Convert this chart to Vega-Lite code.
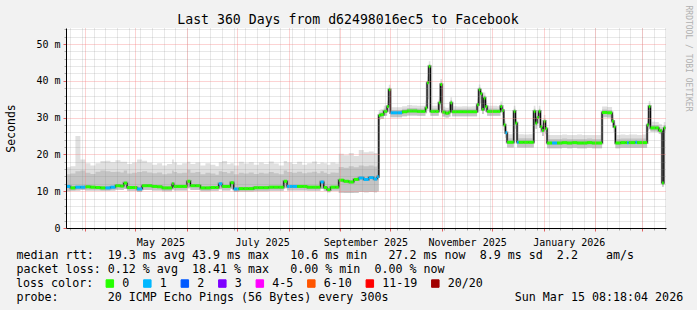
{
  "$schema": "https://vega.github.io/schema/vega-lite/v6.json",
  "width": 600,
  "height": 200,
  "autosize": {"type": "none"},
  "padding": {"left": 66, "top": 28, "right": 31, "bottom": 82},
  "background": "#f2f2f2",
  "config": {
    "view": {"stroke": null, "fill": "#ffffff"},
    "font": "DejaVu Sans Mono"
  },
  "title": {
    "text": "Last 360 Days from d62498016ec5 to Facebook",
    "font": "DejaVu Sans Mono",
    "fontSize": 13.2,
    "fontWeight": "normal",
    "color": "#000000",
    "anchor": "middle",
    "frame": "group",
    "dx": -18,
    "baseline": "alphabetic",
    "offset": -32
  },
  "data": {
    "values": [
      {"t":"2025-03-20","m":11.3,"hi":16.5,"mid":14.6,"lo":10.0,"loss":"1"},
      {"t":"2025-03-23","m":10.9,"hi":16.8,"mid":14.8,"lo":10.1,"loss":"0"},
      {"t":"2025-03-26","m":11.1,"hi":25.0,"mid":15.4,"lo":10.2,"loss":"1"},
      {"t":"2025-03-29","m":11.1,"hi":18.6,"mid":15.6,"lo":10.3,"loss":"1"},
      {"t":"2025-04-01","m":11.2,"hi":17.6,"mid":15.0,"lo":10.2,"loss":"0"},
      {"t":"2025-04-04","m":11.1,"hi":17.0,"mid":14.7,"lo":10.2,"loss":"0"},
      {"t":"2025-04-07","m":11.0,"hi":17.6,"mid":15.3,"lo":10.2,"loss":"0"},
      {"t":"2025-04-10","m":10.9,"hi":18.2,"mid":15.6,"lo":10.1,"loss":"0"},
      {"t":"2025-04-13","m":10.9,"hi":18.3,"mid":15.4,"lo":10.1,"loss":"1"},
      {"t":"2025-04-16","m":11.1,"hi":17.9,"mid":15.2,"lo":10.2,"loss":"1"},
      {"t":"2025-04-19","m":11.5,"hi":18.4,"mid":15.3,"lo":10.4,"loss":"0"},
      {"t":"2025-04-22","m":11.4,"hi":18.0,"mid":15.1,"lo":10.3,"loss":"0"},
      {"t":"2025-04-24","m":12.2,"hi":18.0,"mid":15.6,"lo":10.6,"loss":"0"},
      {"t":"2025-04-26","m":11.0,"hi":17.4,"mid":14.8,"lo":10.1,"loss":"0"},
      {"t":"2025-04-29","m":11.0,"hi":17.8,"mid":15.0,"lo":10.1,"loss":"0"},
      {"t":"2025-05-02","m":10.6,"hi":18.6,"mid":15.2,"lo":9.8,"loss":"1"},
      {"t":"2025-05-05","m":11.5,"hi":18.3,"mid":15.4,"lo":10.3,"loss":"0"},
      {"t":"2025-05-08","m":11.5,"hi":17.7,"mid":15.1,"lo":10.3,"loss":"0"},
      {"t":"2025-05-11","m":11.3,"hi":17.2,"mid":14.9,"lo":10.2,"loss":"0"},
      {"t":"2025-05-14","m":11.2,"hi":17.6,"mid":15.1,"lo":10.2,"loss":"0"},
      {"t":"2025-05-17","m":10.9,"hi":17.0,"mid":14.6,"lo":10.0,"loss":"0"},
      {"t":"2025-05-20","m":10.9,"hi":17.4,"mid":14.8,"lo":10.0,"loss":"0"},
      {"t":"2025-05-23","m":12.0,"hi":18.6,"mid":15.6,"lo":10.5,"loss":"0"},
      {"t":"2025-05-24","m":11.3,"hi":17.8,"mid":15.2,"lo":10.2,"loss":"0"},
      {"t":"2025-05-26","m":11.3,"hi":17.2,"mid":14.9,"lo":10.2,"loss":"0"},
      {"t":"2025-05-29","m":11.3,"hi":17.6,"mid":15.0,"lo":10.2,"loss":"0"},
      {"t":"2025-06-01","m":12.7,"hi":18.0,"mid":15.8,"lo":10.8,"loss":"0"},
      {"t":"2025-06-03","m":11.5,"hi":17.4,"mid":15.0,"lo":10.3,"loss":"0"},
      {"t":"2025-06-06","m":11.5,"hi":17.8,"mid":15.2,"lo":10.3,"loss":"0"},
      {"t":"2025-06-09","m":10.9,"hi":17.0,"mid":14.6,"lo":10.0,"loss":"0"},
      {"t":"2025-06-12","m":10.9,"hi":17.6,"mid":15.0,"lo":10.0,"loss":"0"},
      {"t":"2025-06-15","m":11.0,"hi":17.2,"mid":14.8,"lo":10.1,"loss":"0"},
      {"t":"2025-06-18","m":11.0,"hi":16.8,"mid":14.5,"lo":10.1,"loss":"0"},
      {"t":"2025-06-20","m":12.0,"hi":17.9,"mid":15.4,"lo":10.5,"loss":"1"},
      {"t":"2025-06-22","m":11.3,"hi":18.2,"mid":15.2,"lo":10.2,"loss":"0"},
      {"t":"2025-06-25","m":11.3,"hi":17.3,"mid":14.9,"lo":10.2,"loss":"0"},
      {"t":"2025-06-27","m":12.3,"hi":17.6,"mid":15.4,"lo":10.6,"loss":"0"},
      {"t":"2025-06-29","m":10.6,"hi":17.0,"mid":14.6,"lo":9.8,"loss":"1"},
      {"t":"2025-07-02","m":10.7,"hi":18.0,"mid":15.0,"lo":9.9,"loss":"0"},
      {"t":"2025-07-05","m":10.7,"hi":17.5,"mid":14.8,"lo":9.9,"loss":"0"},
      {"t":"2025-07-08","m":10.7,"hi":17.9,"mid":15.1,"lo":9.9,"loss":"0"},
      {"t":"2025-07-11","m":10.95,"hi":17.2,"mid":14.7,"lo":10.0,"loss":"0"},
      {"t":"2025-07-14","m":10.95,"hi":17.8,"mid":15.0,"lo":10.0,"loss":"0"},
      {"t":"2025-07-17","m":10.95,"hi":17.4,"mid":14.8,"lo":10.0,"loss":"0"},
      {"t":"2025-07-20","m":11.1,"hi":18.1,"mid":15.2,"lo":10.1,"loss":"0"},
      {"t":"2025-07-23","m":11.1,"hi":17.5,"mid":14.9,"lo":10.1,"loss":"0"},
      {"t":"2025-07-26","m":11.1,"hi":17.0,"mid":14.6,"lo":10.1,"loss":"0"},
      {"t":"2025-07-29","m":12.7,"hi":18.2,"mid":15.6,"lo":10.8,"loss":"0"},
      {"t":"2025-07-31","m":11.3,"hi":17.8,"mid":15.2,"lo":10.2,"loss":"1"},
      {"t":"2025-08-03","m":11.3,"hi":17.4,"mid":15.0,"lo":10.2,"loss":"1"},
      {"t":"2025-08-06","m":11.3,"hi":18.0,"mid":15.3,"lo":10.2,"loss":"0"},
      {"t":"2025-08-09","m":11.3,"hi":17.2,"mid":14.9,"lo":10.2,"loss":"0"},
      {"t":"2025-08-12","m":11.1,"hi":17.6,"mid":15.1,"lo":10.1,"loss":"0"},
      {"t":"2025-08-15","m":11.1,"hi":18.1,"mid":15.3,"lo":10.1,"loss":"0"},
      {"t":"2025-08-18","m":11.1,"hi":17.4,"mid":14.9,"lo":10.1,"loss":"0"},
      {"t":"2025-08-20","m":12.5,"hi":17.8,"mid":15.4,"lo":10.7,"loss":"1"},
      {"t":"2025-08-22","m":11.0,"hi":17.6,"mid":15.0,"lo":10.1,"loss":"0"},
      {"t":"2025-08-24","m":10.4,"hi":17.2,"mid":14.7,"lo":9.7,"loss":"0"},
      {"t":"2025-08-26","m":11.1,"hi":17.8,"mid":15.1,"lo":10.1,"loss":"0"},
      {"t":"2025-08-29","m":11.1,"hi":17.5,"mid":15.0,"lo":10.1,"loss":"0"},
      {"t":"2025-08-31","m":13.0,"hi":20.2,"mid":16.6,"lo":9.6,"loss":"0"},
      {"t":"2025-09-03","m":12.7,"hi":19.8,"mid":16.4,"lo":9.5,"loss":"0"},
      {"t":"2025-09-06","m":12.5,"hi":20.4,"mid":16.8,"lo":9.5,"loss":"0"},
      {"t":"2025-09-09","m":13.2,"hi":19.6,"mid":16.5,"lo":9.6,"loss":"0"},
      {"t":"2025-09-12","m":13.6,"hi":21.2,"mid":17.0,"lo":9.8,"loss":"1"},
      {"t":"2025-09-15","m":13.2,"hi":20.6,"mid":16.8,"lo":9.7,"loss":"1"},
      {"t":"2025-09-18","m":13.7,"hi":20.8,"mid":17.0,"lo":9.8,"loss":"1"},
      {"t":"2025-09-21","m":13.3,"hi":20.4,"mid":16.7,"lo":9.7,"loss":"1"},
      {"t":"2025-09-23","m":13.9,"hi":20.4,"mid":17.0,"lo":9.9,"loss":"1"},
      {"t":"2025-09-24","m":30.6,"hi":32.1,"mid":31.4,"lo":29.4,"loss":"0"},
      {"t":"2025-09-25","m":30.8,"hi":32.3,"mid":31.6,"lo":29.6,"loss":"0"},
      {"t":"2025-09-27","m":31.7,"hi":33.2,"mid":32.5,"lo":30.5,"loss":"0"},
      {"t":"2025-09-29","m":33.0,"hi":34.6,"mid":33.8,"lo":31.6,"loss":"0"},
      {"t":"2025-09-30","m":37.6,"hi":38.9,"mid":38.2,"lo":35.0,"loss":"0"},
      {"t":"2025-10-01","m":31.3,"hi":32.8,"mid":32.1,"lo":30.1,"loss":"1"},
      {"t":"2025-10-02","m":31.3,"hi":32.8,"mid":32.1,"lo":30.1,"loss":"1"},
      {"t":"2025-10-05","m":31.3,"hi":32.8,"mid":32.1,"lo":30.1,"loss":"1"},
      {"t":"2025-10-08","m":31.6,"hi":33.1,"mid":32.4,"lo":30.4,"loss":"0"},
      {"t":"2025-10-11","m":31.8,"hi":33.4,"mid":32.6,"lo":30.6,"loss":"0"},
      {"t":"2025-10-14","m":31.8,"hi":33.3,"mid":32.6,"lo":30.6,"loss":"0"},
      {"t":"2025-10-17","m":31.7,"hi":33.2,"mid":32.5,"lo":30.5,"loss":"0"},
      {"t":"2025-10-20","m":31.7,"hi":33.2,"mid":32.5,"lo":30.5,"loss":"0"},
      {"t":"2025-10-22","m":32.6,"hi":34.6,"mid":33.5,"lo":31.2,"loss":"0"},
      {"t":"2025-10-23","m":39.5,"hi":41.2,"mid":40.3,"lo":35.0,"loss":"0"},
      {"t":"2025-10-24","m":43.9,"hi":45.3,"mid":44.6,"lo":41.0,"loss":"0"},
      {"t":"2025-10-25","m":31.7,"hi":33.2,"mid":32.5,"lo":30.5,"loss":"0"},
      {"t":"2025-10-28","m":31.7,"hi":33.2,"mid":32.5,"lo":30.5,"loss":"0"},
      {"t":"2025-10-30","m":34.0,"hi":35.8,"mid":34.9,"lo":32.5,"loss":"0"},
      {"t":"2025-10-31","m":39.0,"hi":40.5,"mid":39.8,"lo":36.0,"loss":"0"},
      {"t":"2025-11-01","m":31.5,"hi":33.0,"mid":32.3,"lo":30.3,"loss":"0"},
      {"t":"2025-11-03","m":31.2,"hi":32.7,"mid":32.0,"lo":30.0,"loss":"0"},
      {"t":"2025-11-05","m":31.5,"hi":33.0,"mid":32.3,"lo":30.3,"loss":"0"},
      {"t":"2025-11-06","m":34.0,"hi":35.5,"mid":34.8,"lo":32.5,"loss":"0"},
      {"t":"2025-11-07","m":31.6,"hi":33.1,"mid":32.4,"lo":30.4,"loss":"0"},
      {"t":"2025-11-10","m":31.6,"hi":33.0,"mid":32.4,"lo":30.4,"loss":"0"},
      {"t":"2025-11-13","m":31.6,"hi":33.1,"mid":32.4,"lo":30.4,"loss":"0"},
      {"t":"2025-11-16","m":31.6,"hi":33.0,"mid":32.4,"lo":30.4,"loss":"0"},
      {"t":"2025-11-19","m":31.6,"hi":33.1,"mid":32.4,"lo":30.4,"loss":"0"},
      {"t":"2025-11-22","m":33.5,"hi":35.2,"mid":34.3,"lo":31.5,"loss":"0"},
      {"t":"2025-11-23","m":37.6,"hi":39.0,"mid":38.3,"lo":35.0,"loss":"0"},
      {"t":"2025-11-24","m":36.5,"hi":37.8,"mid":37.1,"lo":34.0,"loss":"0"},
      {"t":"2025-11-25","m":32.2,"hi":33.8,"mid":33.0,"lo":31.0,"loss":"0"},
      {"t":"2025-11-26","m":35.3,"hi":36.8,"mid":36.0,"lo":33.5,"loss":"0"},
      {"t":"2025-11-27","m":33.0,"hi":34.6,"mid":33.8,"lo":31.5,"loss":"0"},
      {"t":"2025-11-28","m":31.7,"hi":33.2,"mid":32.5,"lo":30.5,"loss":"0"},
      {"t":"2025-12-01","m":31.7,"hi":33.2,"mid":32.5,"lo":30.5,"loss":"0"},
      {"t":"2025-12-04","m":31.7,"hi":33.1,"mid":32.4,"lo":30.5,"loss":"0"},
      {"t":"2025-12-06","m":33.0,"hi":34.4,"mid":33.7,"lo":31.8,"loss":"0"},
      {"t":"2025-12-07","m":31.9,"hi":33.4,"mid":32.7,"lo":30.8,"loss":"0"},
      {"t":"2025-12-08","m":28.0,"hi":30.0,"mid":29.0,"lo":26.5,"loss":"0"},
      {"t":"2025-12-09","m":25.9,"hi":27.6,"mid":26.8,"lo":24.5,"loss":"1"},
      {"t":"2025-12-10","m":23.3,"hi":25.5,"mid":24.4,"lo":21.9,"loss":"0"},
      {"t":"2025-12-13","m":23.3,"hi":25.5,"mid":24.4,"lo":21.9,"loss":"0"},
      {"t":"2025-12-14","m":31.7,"hi":33.2,"mid":32.4,"lo":30.0,"loss":"0"},
      {"t":"2025-12-15","m":28.5,"hi":30.2,"mid":29.3,"lo":27.0,"loss":"0"},
      {"t":"2025-12-16","m":23.3,"hi":25.5,"mid":24.4,"lo":21.9,"loss":"1"},
      {"t":"2025-12-17","m":23.3,"hi":25.5,"mid":24.4,"lo":21.9,"loss":"0"},
      {"t":"2025-12-20","m":23.3,"hi":25.4,"mid":24.4,"lo":21.9,"loss":"0"},
      {"t":"2025-12-23","m":23.3,"hi":25.5,"mid":24.4,"lo":21.9,"loss":"0"},
      {"t":"2025-12-25","m":23.3,"hi":25.5,"mid":24.4,"lo":21.9,"loss":"0"},
      {"t":"2025-12-26","m":31.7,"hi":33.2,"mid":32.4,"lo":30.0,"loss":"0"},
      {"t":"2025-12-27","m":28.5,"hi":30.2,"mid":29.3,"lo":27.0,"loss":"0"},
      {"t":"2025-12-28","m":30.0,"hi":31.7,"mid":30.8,"lo":28.5,"loss":"0"},
      {"t":"2025-12-29","m":31.7,"hi":33.2,"mid":32.4,"lo":30.0,"loss":"0"},
      {"t":"2025-12-30","m":27.5,"hi":29.3,"mid":28.4,"lo":26.0,"loss":"0"},
      {"t":"2025-12-31","m":26.5,"hi":28.3,"mid":27.4,"lo":25.0,"loss":"0"},
      {"t":"2026-01-01","m":29.0,"hi":30.7,"mid":29.8,"lo":27.5,"loss":"0"},
      {"t":"2026-01-02","m":27.0,"hi":28.9,"mid":27.9,"lo":25.5,"loss":"0"},
      {"t":"2026-01-03","m":23.1,"hi":25.3,"mid":24.2,"lo":21.7,"loss":"0"},
      {"t":"2026-01-06","m":23.1,"hi":25.3,"mid":24.2,"lo":21.7,"loss":"1"},
      {"t":"2026-01-09","m":23.1,"hi":25.3,"mid":24.2,"lo":21.7,"loss":"0"},
      {"t":"2026-01-12","m":23.2,"hi":25.4,"mid":24.3,"lo":21.8,"loss":"0"},
      {"t":"2026-01-15","m":23.1,"hi":25.3,"mid":24.2,"lo":21.7,"loss":"0"},
      {"t":"2026-01-18","m":23.2,"hi":25.3,"mid":24.2,"lo":21.8,"loss":"0"},
      {"t":"2026-01-21","m":23.1,"hi":25.4,"mid":24.2,"lo":21.7,"loss":"0"},
      {"t":"2026-01-24","m":23.1,"hi":25.3,"mid":24.2,"lo":21.7,"loss":"0"},
      {"t":"2026-01-27","m":23.2,"hi":25.3,"mid":24.3,"lo":21.8,"loss":"0"},
      {"t":"2026-01-30","m":23.1,"hi":25.3,"mid":24.2,"lo":21.7,"loss":"0"},
      {"t":"2026-02-02","m":23.1,"hi":25.3,"mid":24.2,"lo":21.7,"loss":"0"},
      {"t":"2026-02-05","m":31.4,"hi":33.0,"mid":32.2,"lo":30.1,"loss":"0"},
      {"t":"2026-02-08","m":31.3,"hi":32.9,"mid":32.1,"lo":30.0,"loss":"0"},
      {"t":"2026-02-11","m":29.0,"hi":30.7,"mid":29.8,"lo":27.5,"loss":"0"},
      {"t":"2026-02-12","m":27.5,"hi":29.3,"mid":28.4,"lo":26.0,"loss":"0"},
      {"t":"2026-02-13","m":23.1,"hi":25.3,"mid":24.2,"lo":21.7,"loss":"0"},
      {"t":"2026-02-16","m":23.2,"hi":25.4,"mid":24.3,"lo":21.8,"loss":"0"},
      {"t":"2026-02-19","m":23.2,"hi":25.3,"mid":24.3,"lo":21.8,"loss":"0"},
      {"t":"2026-02-20","m":23.2,"hi":25.3,"mid":24.3,"lo":21.8,"loss":"1"},
      {"t":"2026-02-21","m":23.2,"hi":25.4,"mid":24.3,"lo":21.8,"loss":"0"},
      {"t":"2026-02-25","m":23.3,"hi":25.4,"mid":24.3,"lo":21.8,"loss":"1"},
      {"t":"2026-02-26","m":23.2,"hi":25.3,"mid":24.3,"lo":21.8,"loss":"0"},
      {"t":"2026-03-01","m":23.2,"hi":25.4,"mid":24.3,"lo":21.8,"loss":"0"},
      {"t":"2026-03-04","m":28.0,"hi":30.0,"mid":29.0,"lo":26.5,"loss":"0"},
      {"t":"2026-03-05","m":33.0,"hi":34.5,"mid":33.8,"lo":31.0,"loss":"0"},
      {"t":"2026-03-06","m":27.2,"hi":28.9,"mid":28.0,"lo":26.2,"loss":"0"},
      {"t":"2026-03-09","m":27.2,"hi":28.8,"mid":28.0,"lo":26.2,"loss":"0"},
      {"t":"2026-03-11","m":26.5,"hi":28.3,"mid":27.4,"lo":25.6,"loss":"0"},
      {"t":"2026-03-12","m":26.4,"hi":28.2,"mid":27.3,"lo":25.5,"loss":"0"},
      {"t":"2026-03-13","m":12.2,"hi":13.8,"mid":13.0,"lo":11.2,"loss":"0"},
      {"t":"2026-03-14","m":27.2,"hi":28.8,"mid":28.0,"lo":26.2,"loss":"0"},
      {"t":"2026-03-15","m":27.2,"hi":28.8,"mid":28.0,"lo":26.2,"loss":"0"}
    ]
  },
  "transform": [
    {"window": [{"op": "lead", "field": "t", "as": "t2"}], "sort": [{"field": "t", "order": "ascending"}]}
  ],
  "layer": [
    {
      "mark": {"type": "area", "interpolate": "step-after", "color": "#e0e0e0", "clip": true},
      "encoding": {
        "x": {
          "field": "t", "type": "temporal",
          "scale": {"type": "utc", "domain": [
            {"year": 2025, "month": 3, "date": 20, "hours": 8, "minutes": 18, "seconds": 4, "utc": true},
            {"year": 2026, "month": 3, "date": 15, "hours": 8, "minutes": 18, "seconds": 4, "utc": true}
          ]},
          "axis": {
            "orient": "bottom",
            "tickCount": {"interval": "week", "step": 1},
            "grid": true, "gridColor": "#8c8c8c", "gridOpacity": 0.4, "gridDash": [1, 1], "gridWidth": 1,
            "labels": false, "domain": false,
            "ticks": true, "tickSize": 2, "tickColor": "#aaaaaa",
            "title": "probe:\u00a0\u00a0\u00a0\u00a0\u00a0\u00a0\u00a020\u00a0ICMP\u00a0Echo\u00a0Pings\u00a0(56\u00a0Bytes)\u00a0every\u00a0300s\u00a0\u00a0\u00a0\u00a0\u00a0\u00a0\u00a0\u00a0\u00a0\u00a0\u00a0\u00a0\u00a0\u00a0\u00a0\u00a0\u00a0\u00a0Sun\u00a0Mar\u00a015\u00a008:18:04\u00a02026",
            "titleFont": "DejaVu Sans Mono", "titleFontSize": 11.66, "titleFontWeight": "normal",
            "titleColor": "#000000", "titleAlign": "left", "titleBaseline": "alphabetic",
            "titleX": -50, "titleY": 72.8,
            "zindex": 1
          }
        },
        "y": {
          "field": "hi", "type": "quantitative",
          "scale": {"domain": [0, 54.35], "nice": false, "zero": true},
          "axis": {
            "orient": "right",
            "grid": false, "labels": false, "ticks": false, "domain": false,
            "title": "RRDTOOL / TOBI OETIKER",
            "titleAngle": 90, "titleFont": "DejaVu Sans Mono", "titleFontSize": 8,
            "titleFontWeight": "normal", "titleColor": "#b0b0b0",
            "titleX": 19, "titleY": -23, "titleAlign": "left", "titleBaseline": "alphabetic"
          }
        },
        "y2": {"field": "lo"}
      }
    },
    {
      "mark": {"type": "area", "interpolate": "step-after", "color": "#c4c4c4", "clip": true},
      "encoding": {
        "x": {"field": "t", "type": "temporal", "axis": null},
        "y": {"field": "mid", "type": "quantitative", "axis": null},
        "y2": {"field": "lo"}
      }
    },
    {
      "mark": {"type": "line", "interpolate": "step-after", "color": "#959595", "strokeWidth": 2.5, "clip": true},
      "encoding": {
        "x": {"field": "t", "type": "temporal", "axis": null},
        "y": {"field": "m", "type": "quantitative", "axis": null}
      }
    },
    {
      "mark": {"type": "line", "interpolate": "step-after", "color": "#000000", "strokeWidth": 1, "clip": true},
      "encoding": {
        "x": {"field": "t", "type": "temporal", "axis": null},
        "y": {"field": "m", "type": "quantitative", "axis": null}
      }
    },
    {
      "mark": {"type": "rule", "strokeWidth": 3, "clip": true},
      "encoding": {
        "x": {
          "field": "t", "type": "temporal",
          "axis": {
            "orient": "bottom",
            "values": [
              {"year": 2025, "month": 4, "date": 1, "utc": true},
              {"year": 2025, "month": 5, "date": 1, "utc": true},
              {"year": 2025, "month": 6, "date": 1, "utc": true},
              {"year": 2025, "month": 7, "date": 1, "utc": true},
              {"year": 2025, "month": 8, "date": 1, "utc": true},
              {"year": 2025, "month": 9, "date": 1, "utc": true},
              {"year": 2025, "month": 10, "date": 1, "utc": true},
              {"year": 2025, "month": 11, "date": 1, "utc": true},
              {"year": 2025, "month": 12, "date": 1, "utc": true},
              {"year": 2026, "month": 1, "date": 1, "utc": true},
              {"year": 2026, "month": 2, "date": 1, "utc": true},
              {"year": 2026, "month": 3, "date": 1, "utc": true}
            ],
            "grid": true, "gridColor": "#f58080", "gridOpacity": 0.7, "gridDash": [1, 1], "gridWidth": 1,
            "domain": true, "domainColor": "#000000", "domainWidth": 1,
            "ticks": true, "tickSize": 3, "tickColor": "#e06060",
            "labelExpr": "utcmonth(datum.value) % 2 == 0 && utcmonth(datum.value) != 2 ? utcFormat(datum.value, '%B %Y') : ''",
            "labelOffset": 25, "labelFont": "DejaVu Sans Mono", "labelFontSize": 10, "labelColor": "#000000",
            "labelPadding": 6, "labelOverlap": false, "labelFlush": false, "labelBound": false,
            "title": [
              "median\u00a0rtt:\u00a0\u00a019.3\u00a0ms\u00a0avg\u00a043.9\u00a0ms\u00a0max\u00a0\u00a0\u00a010.6\u00a0ms\u00a0min\u00a0\u00a0\u00a027.2\u00a0ms\u00a0now\u00a0\u00a08.9\u00a0ms\u00a0sd\u00a0\u00a02.2\u00a0\u00a0\u00a0\u00a0am/s",
              "packet\u00a0loss:\u00a00.12\u00a0%\u00a0avg\u00a0\u00a018.41\u00a0%\u00a0max\u00a0\u00a0\u00a00.00\u00a0%\u00a0min\u00a0\u00a00.00\u00a0%\u00a0now"
            ],
            "titleFont": "DejaVu Sans Mono", "titleFontSize": 11.66, "titleFontWeight": "normal",
            "titleColor": "#000000", "titleAlign": "left", "titleBaseline": "alphabetic",
            "titleX": -50, "titleY": 30.2, "titleLineHeight": 14.1,
            "zindex": 1
          }
        },
        "x2": {"field": "t2"},
        "y": {
          "field": "m", "type": "quantitative",
          "axis": {
            "orient": "left",
            "values": [0, 2, 4, 6, 8, 10, 12, 14, 16, 18, 20, 22, 24, 26, 28, 30, 32, 34, 36, 38, 40, 42, 44, 46, 48, 50, 52, 54],
            "grid": true,
            "gridColor": {"condition": {"test": "datum.value % 10 == 0", "value": "#f58080"}, "value": "#8c8c8c"},
            "gridOpacity": {"condition": {"test": "datum.value % 10 == 0", "value": 0.7}, "value": 0.4},
            "gridDash": [1, 1], "gridWidth": 1,
            "domain": true, "domainColor": "#000000",
            "ticks": true,
            "tickSize": {"condition": {"test": "datum.value % 10 == 0", "value": 3}, "value": 2},
            "tickColor": {"condition": {"test": "datum.value % 10 == 0", "value": "#e06060"}, "value": "#aaaaaa"},
            "labelExpr": "datum.value % 10 == 0 ? (datum.value == 0 ? '0\u00a0\u00a0' : datum.value + '\u00a0m') : ''",
            "labelFont": "DejaVu Sans Mono", "labelFontSize": 10, "labelColor": "#000000",
            "labelPadding": 3, "labelOverlap": false, "labelFlush": false, "labelBound": false,
            "title": "Seconds",
            "titleFont": "DejaVu Sans Mono", "titleFontSize": 11.5, "titleFontWeight": "normal",
            "titleColor": "#000000", "titleAngle": -90, "titleAlign": "center", "titleBaseline": "alphabetic",
            "titleX": -51.3, "titleY": 100,
            "zindex": 1
          }
        },
        "color": {
          "field": "loss", "type": "nominal",
          "scale": {
            "domain": ["0", "1", "2", "3", "4-5", "6-10", "11-19", "20/20"],
            "range": ["#26ff00", "#00b8ff", "#0059ff", "#7e00ff", "#ff00ff", "#ff5500", "#ff0000", "#a10000"]
          },
          "legend": {
            "orient": "none", "legendX": -50, "legendY": 249.5, "padding": 0,
            "direction": "horizontal",
            "title": "loss color:", "titleOrient": "left", "titlePadding": 10,
            "titleFont": "DejaVu Sans Mono", "titleFontSize": 11.66, "titleFontWeight": "normal", "titleColor": "#000000",
            "symbolType": "square", "symbolSize": 56, "symbolStrokeWidth": 1,
            "labelFont": "DejaVu Sans Mono", "labelFontSize": 11.66, "labelColor": "#000000",
            "labelOffset": 6.5, "columnPadding": 11.5,
            "encode": {"symbols": {"update": {"fill": {"scale": "color", "field": "value"}, "stroke": {"value": "#000000"}, "fillOpacity": {"value": 1}, "strokeWidth": {"value": 1}}}}
          }
        }
      }
    }
  ],
  "resolve": {"axis": {"x": "independent", "y": "independent"}}
}
